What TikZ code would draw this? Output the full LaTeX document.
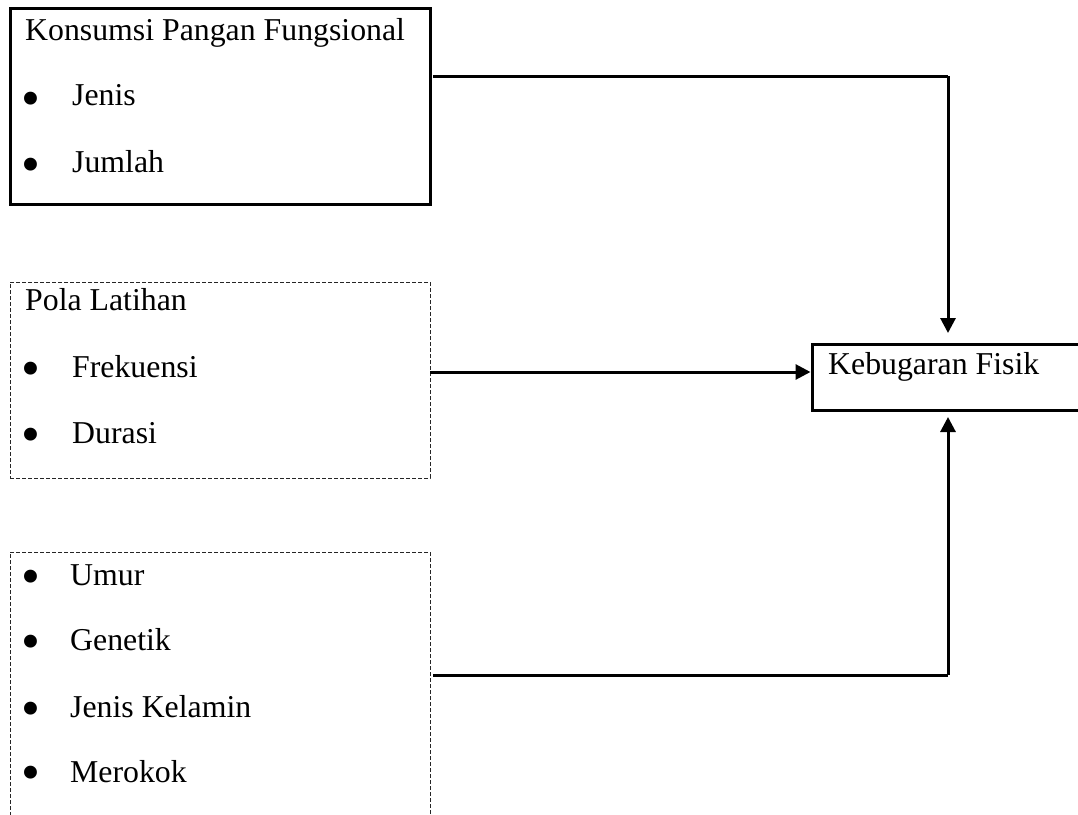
\documentclass[tikz,border=0pt]{standalone}
\usepackage{fontspec}
\setmainfont{Liberation Serif}
\usetikzlibrary{arrows.meta}
\begin{document}
\begin{tikzpicture}[x=1pt,y=-1pt,
  solidbox/.style={draw=black,line width=3pt,inner sep=0pt,fill=none},
  dashbox/.style={draw=black!85,line width=1pt,dash pattern=on 4pt off 2pt,inner sep=0pt},
  lbl/.style={anchor=base west,inner sep=0pt,font=\fontsize{31.8}{38}\selectfont},
  dot/.style={anchor=center,inner sep=0pt,yshift=-7pt,font=\fontsize{54}{60}\selectfont},
  conn/.style={line width=3pt,-{Triangle[width=15pt,length=15pt]}},
  plain/.style={line width=3pt}]
\useasboundingbox (0,0) rectangle (1078,814);
\clip (0,0) rectangle (1078,814);
% boxes
\node[solidbox,minimum width=420pt,minimum height=196pt] (b1) at (220,106) {};
\node[dashbox,minimum width=420pt,minimum height=196pt] (b2) at (220,380) {};
\node[dashbox,minimum width=420pt,minimum height=280pt] (b3) at (220,692) {};
\node[solidbox,minimum width=280pt,minimum height=66pt] (kf) at (952,377) {};
% texts box 1
\node[lbl] (t1) at (25,40) {Konsumsi Pangan Fungsional};
\node[dot] (t1a) at (31,97) {•};
\node[lbl] (t1b) at (72,105) {Jenis};
\node[dot] (t1c) at (31,163) {•};
\node[lbl] (t1d) at (72,172) {Jumlah};
% texts box 2
\node[lbl] (t2) at (25,310) {Pola Latihan};
\node[dot] (t2a) at (31,367) {•};
\node[lbl] (t2b) at (72,377) {Frekuensi};
\node[dot] (t2c) at (31,433) {•};
\node[lbl] (t2d) at (72,443) {Durasi};
% texts box 3
\node[dot] (t3a) at (31,575) {•};
\node[lbl] (t3b) at (70,585) {Umur};
\node[dot] (t3c) at (31,640) {•};
\node[lbl] (t3d) at (70,650) {Genetik};
\node[dot] (t3e) at (31,707) {•};
\node[lbl] (t3f) at (70,717) {Jenis Kelamin};
\node[dot] (t3g) at (31,771) {•};
\node[lbl] (t3h) at (70,782) {Merokok};
% target text
\node[lbl] (tk) at (828,374) {Kebugaran Fisik};
% connectors
\coordinate (s1) at (433,76);
\coordinate (c1) at (948,76);
\coordinate (e1) at (948,333);
\coordinate (s2) at (430,372);
\coordinate (s3) at (433,675);
\coordinate (c3) at (948,675);
\coordinate (e3) at (948,417);
\draw[plain] (s1) -- (c1);
\draw[conn] (c1) -- (e1);
\draw[conn] (s2) -- (s2 -| kf.west);
\draw[plain] (s3) -- (c3);
\draw[conn] (c3) -- (e3);
\end{tikzpicture}
\end{document}
